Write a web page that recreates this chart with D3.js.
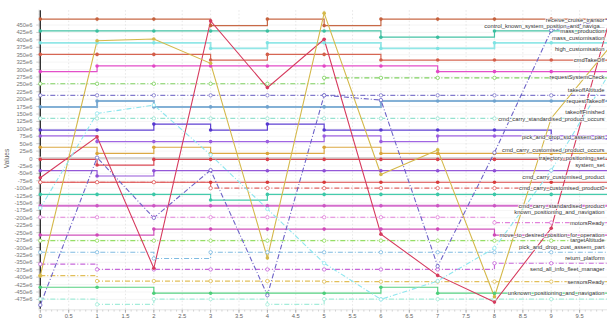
<!DOCTYPE html>
<html><head><meta charset="utf-8">
<script src="https://cdn.jsdelivr.net/npm/d3@7"></script>
<style>
html,body{margin:0;padding:0;background:#fff;}
svg{display:block;font-family:"Liberation Sans",Arial,sans-serif;}
</style>
</head><body>
<svg id="chart" width="607" height="320"></svg>
<script>
// ---- data (values in units of 1e6) ----
const xCategories = [0,1,2,3,4,5,6,7,8,9,10];

const stepNames = [
  "receive_cruise_transor","mass_production","mass_customisation","cmdTakeOff","",
  "requestSystemCheck","takeoffAltitude","requestTakeoff","takeoffFinished",
  "cmd_carry_standardised_product_occurs","pick_and_drop_std_assem_part",
  "cmd_carry_customised_product_occurs","trajectory_positioning_set","system_set",
  "cmd_carry_customised_product","","cmd_carry_customised_product0",
  "cmd_carry_standardised_product","known_positioning_and_navigation","motorsReady",
  "move_to_desired_position_for_operation","targetAltitude","pick_and_drop_cust_assem_part",
  "return_platform","sensorsReady","unknown_positioning_and_navigation","send_all_info_fleet_manager"
];
const stepValues = [
  [470,470,470,448,470,448,470,470,470,470,466],
  [430,430,430,430,430,430,409,409,430,430,430],
  [390,390,390,371,390,390,371,371,390,390,407],
  [351,351,351,332,351,351,332,332,332,332,331],
  [293,312,312,312,312,312,312,293,293,293,293],
  [252,252,252,252,252,272,272,272,272,272,276],
  [213,213,213,213,213,213,213,213,213,213,231],
  [174,194,174,174,174,174,194,194,194,194,194],
  [135,135,135,135,135,135,135,135,135,135,156],
  [96,96,116,96,116,96,96,96,96,66,132],
  [76,57,57,57,57,76,57,76,76,76,73],
  [38,17,38,17,17,38,17,17,17,17,29],
  [1,1,1,1,1,1,1,1,1,1,1],
  [-3,-22,-3,-3,-3,-3,-3,-3,-3,-3,-22],
  [-41,-59,-41,-41,-41,-41,-41,-41,-41,-41,-61],
  [-80,-80,-80,-80,-80,-80,-80,-80,-80,-80,-80],
  [-80,-80,-80,-100,-100,-100,-100,-100,-100,-100,-100],
  [-121,-121,-121,-140,-121,-121,-121,-121,-121,-121,-160],
  [-159,-159,-159,-159,-159,-159,-159,-159,-159,-159,-179],
  [-198,-198,-198,-198,-198,-198,-198,-198,-216,-216,-216],
  [-258,-258,-238,-238,-238,-238,-238,-238,-258,-258,-258],
  [-277,-277,-277,-277,-277,-277,-277,-277,-277,-277,-275],
  [-316,-316,-337,-316,-316,-316,-316,-316,-316,-316,-297],
  [-356,-374,-374,-374,-374,-374,-374,-374,-353,-353,-336],
  [-395,-413,-413,-413,-413,-415,-415,-415,-415,-415,-415],
  [-434,-434,-454,-454,-454,-454,-434,-454,-454,-454,-454],
  [-474,-492,-474,-474,-492,-474,-474,-474,-474,-474,-374]
];

const zigNames = ["control_known_system_position_and_naviga...","high_customisation","",""];
const zigValues = [
  [-65,73,-370,464,239,402,-255,-394,-484,-235,448],
  [-395,397,403,321,-335,490,-54,29,-466,136,369],
  [-167,152,180,12,-170,-353,-475,-413,-302,-40,280],
  [-494,3,-200,-39,-461,213,197,-363,20,432,470]
];

const yTickValues = d3.range(-475, 451, 25);
const xTickValues = d3.range(0, 9.501, 0.5);
const yAxisTitle = "Values";

// ---- styles ----
const stepColors = ["#c5613d","#3bbfa0","#7fe3e3","#d45e4a","#e246c6","#77cf55","#7b73c9","#6fa3cf","#8fe0cc",
  "#5638d0","#9b5de0","#d9a43a","#cfcfcf","#d8404c","#8e4fd6","#d83a3a","#e06060","#3cc8a8","#cc55c4",
  "#e07ad8","#cf4ab8","#90dc5c","#79b8e0","#c460d8","#e0bc50","#4dcf7a","#9fecd8"];
const stepDashed = [0,0,0,0,0,1,1,0,1,0,0,0,0,0,0,0,1,0,0,1,0,1,1,1,1,0,1];
const stepWidths = [1.2,1.2,1.8,1.2,1.2,1.2,1.2,2,1.2,1.2,1.2,1.2,2.5,1.2,1.2,1.2,1.2,1.2,2,1.2,1.2,1.2,1.2,1.2,1.2,1.2,1.2];
const zigColors = ["#d63b5e","#d4b84a","#8ee6ee","#6e64c8"];
const zigDashed = [0,0,1,1];

const svg = d3.select("#chart");
const W = 607, H = 320;
const x = d3.scaleLinear().domain([0,10]).range([40.3,608]);
const y = d3.scaleLinear().domain([-510,500]).range([309.8,10.2]);
const yTop = y(500), yBottom = y(-510);

svg.append("defs").append("clipPath").attr("id","clip")
  .append("rect").attr("x",x(0)-3).attr("y",yTop-3).attr("width",W-x(0)+3).attr("height",yBottom-yTop+6);

// grid
const grid = svg.append("g");
grid.selectAll(".hg").data(yTickValues).join("line")
  .attr("x1",x(0)).attr("x2",W).attr("y1",d=>y(d)).attr("y2",d=>y(d))
  .attr("stroke","#efefef").attr("stroke-width",0.6);
grid.selectAll(".vg").data(xTickValues.filter(d=>d>0)).join("line")
  .attr("x1",d=>x(d)).attr("x2",d=>x(d)).attr("y1",yTop).attr("y2",yBottom)
  .attr("stroke","#dcdcdc").attr("stroke-width",0.7).attr("stroke-dasharray","1.5,2");

// x axis
const xa = svg.append("g");
xa.append("line").attr("x1",x(0)).attr("x2",W).attr("y1",yBottom).attr("y2",yBottom).attr("stroke","#d8d8d8").attr("stroke-width",0.7);
xa.selectAll(".xm").data(d3.range(0,10.001,0.1)).join("line")
  .attr("x1",d=>x(d)).attr("x2",d=>x(d)).attr("y1",yBottom).attr("y2",yBottom+1.8)
  .attr("stroke","#bbb").attr("stroke-width",0.6);
xa.selectAll(".xt").data(xTickValues).join("line")
  .attr("x1",d=>x(d)).attr("x2",d=>x(d)).attr("y1",yBottom).attr("y2",yBottom+3)
  .attr("stroke","#999").attr("stroke-width",0.7);
xa.selectAll("text").data(xTickValues).join("text")
  .attr("x",d=>x(d)).attr("y",317.8).attr("text-anchor","middle")
  .attr("font-size",5.8).attr("fill","#666").text(d=>d3.format("~g")(d));

// y axis
const ya = svg.append("g");
ya.selectAll(".ym").data(d3.range(-510,500.1,5)).join("line")
  .attr("x1",x(0)-2.2).attr("x2",x(0)).attr("y1",d=>y(d)).attr("y2",d=>y(d))
  .attr("stroke","#ccc").attr("stroke-width",0.5);
ya.selectAll(".yt").data(yTickValues).join("line")
  .attr("x1",x(0)-4).attr("x2",x(0)).attr("y1",d=>y(d)).attr("y2",d=>y(d))
  .attr("stroke","#aaa").attr("stroke-width",0.6);
ya.selectAll("text").data(yTickValues).join("text")
  .attr("x",32.5).attr("y",d=>y(d)).attr("dy","0.35em").attr("text-anchor","end")
  .attr("font-size",5.8).attr("fill","#777").text(d=>d===0?"0":d+"e6");
ya.append("line").attr("x1",x(0)).attr("x2",x(0)).attr("y1",yTop).attr("y2",yBottom-1)
  .attr("stroke","#333").attr("stroke-width",1.4);
svg.append("text").attr("transform",`translate(9,${y(0)}) rotate(-90)`)
  .attr("text-anchor","middle").attr("font-size",6.5).attr("fill","#666").text(yAxisTitle);

const plot = svg.append("g").attr("clip-path","url(#clip)");
const dashPattern = "5,2,1,2";

const stepLine = d3.line().x((d,i)=>x(xCategories[i])).y(d=>y(d)).curve(d3.curveStepAfter);
const linLine = d3.line().x((d,i)=>x(xCategories[i])).y(d=>y(d));

stepValues.forEach((vals,k)=>{
  plot.append("path").attr("d",stepLine(vals)).attr("fill","none")
    .attr("stroke",stepColors[k]).attr("stroke-width",stepWidths[k])
    .attr("stroke-opacity",stepWidths[k]>1.5?0.85:0.95)
    .attr("stroke-dasharray",stepDashed[k]?dashPattern:null);
});
zigValues.forEach((vals,k)=>{
  plot.append("path").attr("d",linLine(vals)).attr("fill","none")
    .attr("stroke",zigColors[k]).attr("stroke-width",1.1)
    .attr("stroke-dasharray",zigDashed[k]?dashPattern:null);
});
// markers
function markers(vals,color,dashed){
  plot.append("g").selectAll("circle").data(vals.slice(0,10)).join("circle")
    .attr("cx",(d,i)=>x(xCategories[i])).attr("cy",d=>y(d)).attr("r",dashed?1.7:1.8)
    .attr("fill",dashed?"#fff":color).attr("stroke",color).attr("stroke-width",dashed?0.8:0);
}
stepValues.forEach((v,k)=>markers(v,stepColors[k],stepDashed[k]));
zigValues.forEach((v,k)=>markers(v,zigColors[k],zigDashed[k]));

// end labels with simple overlap avoidance
const labels = [];
stepValues.forEach((v,k)=>{ if(stepNames[k]) labels.push({name:stepNames[k], y:y(v[v.length-1])}); });
zigValues.forEach((v,k)=>{ if(zigNames[k]) labels.push({name:zigNames[k], y:y(v[v.length-1])}); });
labels.sort((a,b)=>a.y-b.y);
const gap = 5.3;
for(let i=1;i<labels.length;i++){ if(labels[i].y < labels[i-1].y+gap) labels[i].y = labels[i-1].y+gap; }
svg.append("g").selectAll("text").data(labels).join("text")
  .attr("x",604.5).attr("y",d=>d.y).attr("dy","0.35em").attr("text-anchor","end")
  .attr("font-size",5.8).attr("fill","#333")
  .attr("stroke","#fff").attr("stroke-width",1.6).attr("stroke-opacity",0.85)
  .attr("paint-order","stroke").text(d=>d.name);
</script>
</body></html>
